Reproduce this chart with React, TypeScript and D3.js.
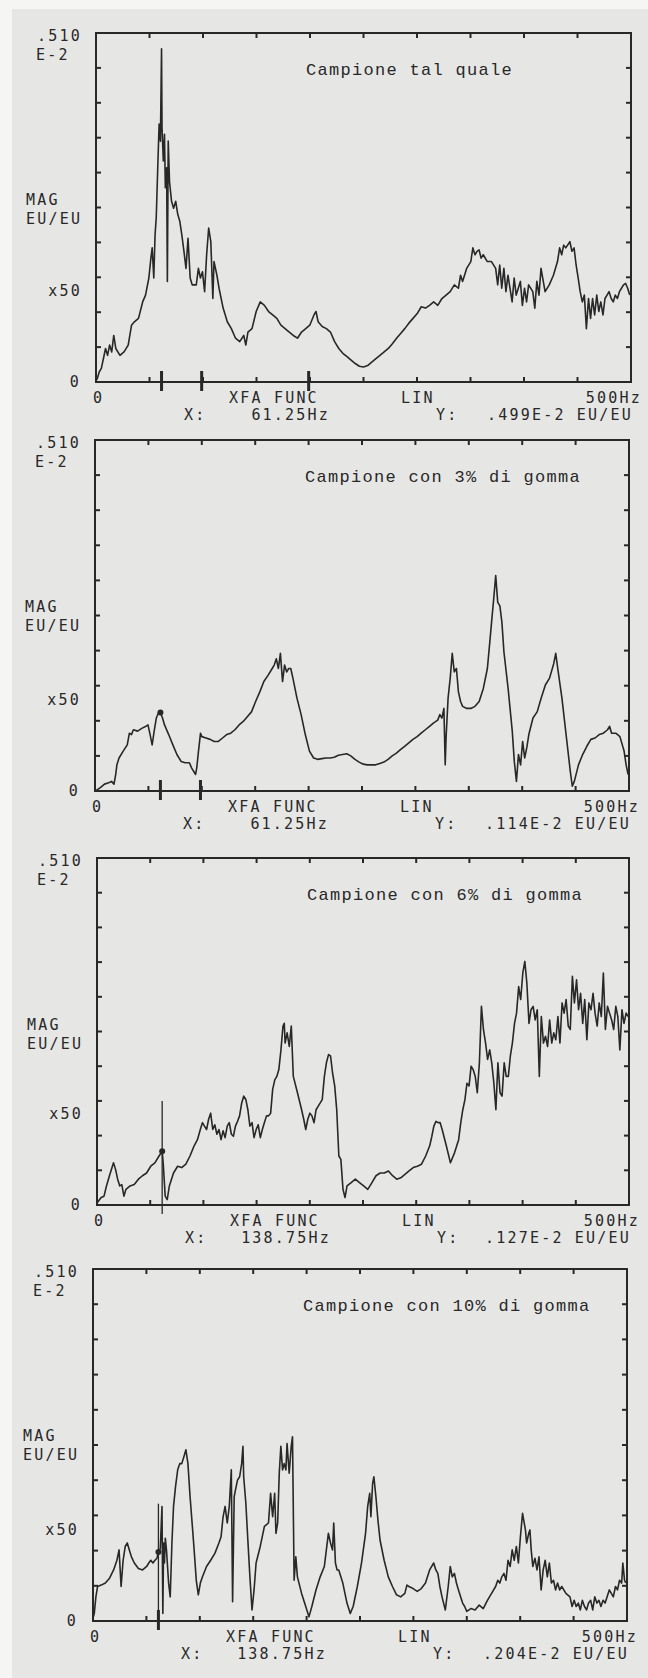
import React from "react";
import * as d3 from "d3";

const W = 648;
const H = 1678;

// ---------- data ----------
const titles = [
  "Campione tal quale",
  "Campione con 3% di gomma",
  "Campione con 6% di gomma",
  "Campione con 10% di gomma",
];
const xReadouts = ["61.25Hz", "61.25Hz", "138.75Hz", "138.75Hz"];
const yReadouts = [".499E-2 EU/EU", ".114E-2 EU/EU", ".127E-2 EU/EU", ".204E-2 EU/EU"];
const yTopLabel = [".510", "E-2"];
const yUnitLabel = ["MAG", "EU/EU"];
const yScaleLabel = "x50";
const xEndLabel = "500Hz";
const xModeLabels = ["XFA FUNC", "LIN"];

const FREQ_MAX = 500; // Hz
const MAG_MAX = 510; // units of 1e-5 EU/EU (.510E-2)
const xTickValues = d3.range(0, 501, 50);
const yTickValues = d3.range(0, 511, 51);

// magnitude in 1e-5 EU/EU vs frequency in Hz
const curveTalQuale: [number, number][] = [
  [0, 2], [1.2, 5], [3.1, 15], [5.0, 20], [6.9, 34], [8.9, 49], [10.8, 39], [12.7, 54], [14.7, 44],
  [16.6, 68], [18.5, 49], [22.4, 39], [26.2, 44], [30.1, 54], [33.2, 83], [35.9, 88], [39.7, 93],
  [43.6, 117], [46.3, 127], [49.4, 152], [51.3, 181], [52.5, 196], [54.0, 152], [55.2, 215],
  [56.3, 240], [57.9, 323], [59.0, 377], [60.2, 352], [61.25, 487], [61.7, 372], [62.9, 323],
  [64.0, 362], [64.8, 284], [66.0, 313], [66.7, 147], [67.5, 352], [68.7, 293], [70.6, 264],
  [72.5, 254], [74.5, 264], [76.4, 245], [78.3, 235], [80.2, 215], [82.2, 191], [84.1, 166],
  [86.0, 210], [88.0, 152], [89.9, 142], [93.7, 142], [95.7, 166], [97.6, 152], [99.5, 161],
  [101.5, 132], [103.4, 186], [105.3, 225], [107.3, 205], [109.2, 122], [110.3, 176], [113.0, 156],
  [115.0, 137], [118.8, 108], [120.8, 98], [122.7, 88], [126.5, 78], [130.4, 64], [134.3, 59],
  [138.1, 68], [140.0, 54], [142.0, 73], [145.8, 78], [149.7, 103], [153.5, 117], [157.4, 112],
  [161.3, 103], [165.1, 98], [169.0, 93], [172.8, 83], [176.7, 78], [180.6, 73], [184.4, 68],
  [188.3, 64], [192.1, 73], [196.0, 78], [199.8, 83], [203.7, 98], [205.6, 103], [207.6, 88],
  [211.4, 81], [215.3, 78], [219.1, 73], [223.0, 59], [226.9, 49], [230.7, 42], [234.6, 37],
  [238.4, 32], [242.3, 27], [246.1, 23], [250.0, 22], [253.9, 24], [257.7, 29], [261.6, 34],
  [265.4, 39], [269.3, 44], [273.2, 49], [277.0, 56], [280.9, 64], [284.7, 71], [288.6, 78],
  [292.4, 86], [296.3, 93], [300.2, 100], [304.0, 110], [307.9, 108], [311.7, 112], [315.6, 117],
  [319.4, 112], [323.3, 122], [327.2, 127], [331.0, 132], [334.9, 142], [338.7, 137], [340.7, 156],
  [342.6, 147], [346.4, 166], [350.3, 176], [352.2, 196], [354.2, 186], [356.1, 191], [358.0, 193],
  [359.9, 181], [361.9, 186], [365.7, 176], [369.6, 176], [373.5, 166], [375.4, 142], [377.3, 171],
  [379.2, 137], [381.2, 166], [383.1, 132], [385.0, 156], [388.9, 117], [390.8, 152], [392.7, 127],
  [396.6, 147], [398.5, 112], [400.5, 137], [402.4, 117], [404.3, 142], [408.2, 132], [410.1, 108],
  [412.0, 147], [414.0, 127], [415.9, 166], [419.7, 132], [423.6, 142], [427.5, 156], [431.3, 176],
  [433.3, 196], [435.2, 186], [437.1, 200], [439.0, 196], [442.9, 205], [444.8, 191], [446.8, 196],
  [448.7, 171], [450.6, 152], [452.5, 132], [454.5, 117], [456.4, 127], [458.3, 78], [460.3, 122],
  [462.2, 93], [464.1, 122], [466.0, 98], [468.0, 127], [469.9, 103], [471.8, 117], [473.8, 98],
  [475.7, 122], [477.6, 127], [479.5, 132], [481.5, 122], [483.4, 117], [485.3, 127], [487.3, 122],
  [489.2, 132], [491.1, 137], [493.0, 142], [495.0, 144], [496.9, 137], [498.8, 127],
];

const curveGomma3: [number, number][] = [
  [0, 0], [1.2, 1], [5.0, 5], [8.9, 10], [12.8, 12], [15.5, 14], [17.8, 10], [19.4, 24], [20.5, 38],
  [22.5, 48], [26.4, 58], [30.2, 67], [32.2, 84], [34.1, 82], [36.0, 89], [39.9, 87], [43.8, 91],
  [47.7, 94], [49.6, 96], [51.6, 82], [53.5, 67], [55.4, 87], [57.4, 106], [59.3, 113], [61.25, 114],
  [63.2, 106], [65.1, 96], [69.0, 82], [72.9, 67], [76.7, 53], [80.6, 43], [84.5, 41], [88.4, 41],
  [90.3, 34], [92.2, 29], [94.2, 24], [95.3, 34], [96.9, 58], [98.8, 84], [100.0, 79], [103.9, 77],
  [107.8, 75], [111.6, 72], [115.5, 72], [119.4, 77], [123.3, 82], [127.1, 84], [131.0, 89],
  [134.9, 96], [138.8, 101], [142.6, 108], [146.5, 115], [150.4, 130], [154.3, 144], [158.1, 159],
  [162.0, 168], [165.9, 178], [167.8, 183], [169.8, 192], [171.7, 178], [173.6, 200], [175.6, 159],
  [177.5, 183], [179.5, 173], [181.4, 178], [183.3, 178], [185.3, 164], [189.1, 135], [193.0, 111],
  [196.9, 82], [200.8, 58], [204.7, 48], [208.5, 46], [212.4, 47], [216.3, 48], [220.2, 48],
  [224.0, 49], [227.9, 52], [231.8, 53], [235.7, 54], [239.5, 51], [243.4, 46], [247.3, 42],
  [251.2, 39], [255.0, 38], [258.9, 38], [262.8, 38], [266.7, 40], [270.5, 42], [274.4, 46],
  [278.3, 51], [282.2, 55], [286.0, 60], [289.9, 65], [293.8, 70], [297.7, 75], [301.6, 79],
  [305.4, 84], [309.3, 89], [313.2, 94], [317.1, 99], [320.9, 103], [322.9, 111], [324.8, 106],
  [326.7, 120], [327.9, 38], [328.7, 77], [330.6, 135], [332.6, 164], [334.5, 200], [336.4, 173],
  [338.4, 178], [340.3, 144], [342.3, 130], [344.2, 123], [348.1, 120], [351.9, 120], [355.8, 123],
  [359.7, 130], [363.6, 149], [367.4, 178], [369.4, 212], [371.3, 245], [373.3, 279], [375.2, 313],
  [377.1, 274], [379.1, 269], [381.0, 245], [382.9, 202], [386.8, 149], [390.7, 87], [392.6, 43],
  [394.6, 14], [396.5, 53], [398.5, 38], [400.4, 72], [402.3, 48], [404.3, 63], [406.2, 82],
  [410.1, 106], [414.0, 115], [417.8, 135], [421.7, 154], [425.6, 164], [429.5, 185], [431.4, 200],
  [433.3, 178], [437.2, 135], [441.1, 82], [445.0, 29], [446.9, 7], [448.8, 14], [452.7, 38],
  [456.6, 53], [460.5, 65], [464.3, 75], [468.2, 77], [472.1, 82], [476.0, 84], [479.9, 89],
  [481.8, 94], [483.7, 84], [487.6, 84], [491.5, 79], [495.4, 58], [497.3, 38], [499.2, 24],
];

const curveGomma6: [number, number][] = [
  [0, 3], [3.9, 11], [6.6, 13], [8.9, 28], [11.7, 43], [15.5, 62], [17.5, 52], [19.4, 38], [21.4, 28],
  [23.3, 30], [25.3, 13], [27.2, 23], [31.1, 28], [35.0, 30], [38.9, 38], [42.7, 43], [46.6, 47],
  [50.5, 57], [54.4, 62], [58.3, 72], [61.25, 79], [62.2, 62], [64.1, 13], [66.0, 8], [68.0, 28],
  [71.9, 47], [75.8, 57], [79.6, 55], [83.5, 60], [87.4, 72], [91.3, 87], [94.4, 96], [97.1, 111],
  [99.1, 121], [101.0, 116], [103.0, 111], [104.9, 126], [106.8, 135], [108.8, 111], [110.7, 118],
  [112.7, 104], [114.6, 111], [116.6, 96], [118.5, 109], [120.4, 99], [122.4, 116], [124.3, 121],
  [126.3, 104], [128.2, 101], [130.1, 116], [132.1, 123], [134.0, 131], [136.0, 150], [137.9, 160],
  [139.9, 155], [141.8, 140], [143.7, 116], [145.7, 121], [147.6, 99], [149.6, 111], [151.5, 118],
  [153.5, 99], [155.4, 111], [157.3, 121], [159.3, 131], [161.2, 131], [163.2, 135], [165.1, 170],
  [167.1, 184], [169.0, 189], [170.9, 199], [172.9, 228], [174.8, 263], [176.0, 267], [176.8, 238],
  [178.7, 253], [180.7, 233], [182.6, 263], [184.5, 189], [188.4, 165], [192.3, 140], [194.3, 126],
  [196.2, 111], [198.1, 126], [200.1, 135], [202.0, 131], [204.0, 121], [205.9, 140], [207.8, 145],
  [209.8, 150], [211.7, 155], [213.7, 189], [215.6, 209], [217.6, 221], [219.5, 219], [221.4, 194],
  [223.4, 175], [225.3, 140], [227.3, 72], [229.2, 67], [231.2, 23], [233.1, 11], [235.0, 28],
  [238.9, 33], [242.8, 38], [246.7, 33], [250.6, 28], [254.5, 23], [258.4, 33], [262.2, 43],
  [266.1, 47], [270.0, 47], [273.9, 50], [277.8, 43], [281.7, 38], [285.5, 40], [289.4, 45],
  [293.3, 50], [297.2, 55], [301.1, 57], [305.0, 60], [308.9, 72], [312.7, 87], [314.7, 101],
  [316.6, 116], [318.6, 123], [320.5, 121], [322.5, 121], [324.4, 111], [328.3, 87], [332.2, 62],
  [336.1, 77], [339.9, 96], [341.9, 121], [343.8, 140], [345.8, 155], [347.7, 179], [349.7, 175],
  [351.6, 204], [353.5, 199], [355.5, 189], [357.4, 165], [359.4, 209], [361.3, 292], [363.2, 258],
  [365.2, 238], [367.1, 214], [369.1, 228], [371.0, 209], [373.0, 179], [374.9, 140], [376.8, 209],
  [378.8, 165], [380.7, 160], [382.7, 209], [384.6, 189], [386.6, 189], [388.5, 219], [390.4, 238],
  [392.4, 267], [394.3, 282], [396.3, 321], [398.2, 302], [400.2, 341], [402.1, 358], [404.0, 326],
  [406.0, 267], [407.9, 287], [409.9, 292], [411.8, 272], [413.8, 287], [415.7, 189], [417.6, 277],
  [419.6, 238], [421.5, 248], [423.5, 233], [425.4, 272], [427.4, 238], [429.3, 253], [431.2, 243],
  [433.2, 277], [435.1, 238], [437.1, 297], [439.0, 282], [440.9, 302], [442.9, 263], [444.8, 258],
  [446.8, 336], [448.7, 297], [450.7, 331], [452.6, 287], [454.5, 311], [456.5, 267], [458.4, 302],
  [460.4, 243], [462.3, 297], [464.3, 287], [466.2, 311], [468.1, 282], [470.1, 263], [472.0, 297],
  [474.0, 277], [475.9, 341], [477.8, 258], [479.8, 292], [481.7, 282], [483.7, 272], [485.6, 258],
  [487.6, 292], [489.5, 277], [491.4, 228], [493.4, 287], [495.3, 267], [497.3, 282], [499.2, 277],
];

const curveGomma10: [number, number][] = [
  [0, 4], [1.2, 11], [2.7, 35], [4.3, 50], [7.7, 52], [11.6, 55], [15.5, 62], [19.3, 74], [22.4, 88],
  [24.4, 103], [26.3, 50], [28.2, 88], [30.2, 108], [32.1, 113], [34.0, 103], [36.0, 93], [38.7, 84],
  [42.5, 76], [46.4, 74], [50.3, 79], [52.2, 84], [54.1, 88], [56.1, 84], [58.0, 88], [59.9, 91],
  [61.25, 100], [63.0, 105], [64.6, 166], [65.4, 11], [66.1, 113], [66.9, 84], [67.7, 120],
  [68.8, 103], [70.8, 55], [72.3, 35], [73.9, 113], [75.4, 166], [77.3, 195], [79.3, 219],
  [81.2, 228], [83.1, 228], [85.1, 238], [87.0, 248], [88.9, 228], [90.9, 180], [92.8, 142],
  [94.7, 103], [96.7, 59], [98.6, 38], [100.5, 55], [102.5, 64], [106.3, 79], [110.2, 88],
  [114.1, 98], [117.9, 113], [119.9, 122], [121.8, 151], [123.7, 166], [125.7, 142], [127.6, 166],
  [129.5, 219], [130.7, 28], [132.2, 180], [133.4, 190], [135.3, 204], [137.3, 209], [139.2, 228],
  [140.4, 253], [141.1, 209], [143.1, 171], [145.0, 117], [146.9, 64], [148.9, 16], [150.8, 45],
  [152.7, 84], [156.6, 108], [160.5, 137], [164.3, 142], [166.3, 185], [168.2, 151], [170.1, 185],
  [171.3, 127], [172.9, 142], [174.4, 214], [175.9, 253], [177.5, 219], [179.0, 228], [180.6, 219],
  [181.7, 257], [183.7, 214], [185.6, 253], [186.8, 267], [188.3, 59], [189.9, 93], [191.4, 64],
  [195.3, 40], [199.2, 21], [202.2, 6], [204.9, 21], [208.8, 45], [212.7, 64], [216.6, 79],
  [218.5, 103], [220.4, 127], [222.4, 113], [224.3, 103], [225.4, 142], [227.0, 84], [228.5, 74],
  [230.1, 74], [233.9, 55], [237.8, 26], [240.9, 11], [243.6, 21], [247.5, 50], [251.4, 84],
  [255.2, 127], [257.2, 166], [259.1, 185], [260.2, 151], [261.8, 199], [263.0, 209], [264.9, 180],
  [266.8, 146], [268.8, 117], [272.6, 88], [276.5, 64], [280.4, 50], [284.2, 38], [288.1, 35],
  [292.0, 40], [293.9, 52], [295.8, 50], [299.7, 47], [303.6, 43], [307.4, 47], [311.3, 55],
  [315.2, 74], [319.0, 84], [321.0, 74], [322.9, 69], [324.8, 50], [326.8, 35], [329.9, 16],
  [332.6, 50], [334.5, 79], [336.4, 64], [338.4, 69], [340.3, 55], [342.2, 45], [344.2, 35],
  [346.1, 26], [348.0, 21], [350.0, 14], [353.8, 18], [357.7, 16], [361.6, 23], [365.4, 18],
  [369.3, 30], [373.2, 40], [377.0, 50], [379.0, 59], [380.9, 55], [382.8, 64], [384.8, 69],
  [386.7, 59], [388.6, 88], [390.6, 79], [392.5, 103], [394.4, 88], [396.4, 108], [398.3, 84],
  [400.2, 122], [402.2, 156], [403.3, 146], [404.9, 132], [406.0, 113], [408.0, 127], [409.1, 132],
  [410.3, 103], [411.8, 79], [413.8, 91], [415.7, 74], [417.6, 93], [419.6, 45], [421.5, 74],
  [423.4, 88], [425.4, 64], [427.3, 84], [429.2, 55], [431.2, 59], [433.1, 45], [435.0, 55],
  [437.0, 45], [438.9, 50], [442.8, 40], [446.6, 35], [448.6, 21], [450.5, 30], [452.4, 21],
  [454.4, 26], [456.3, 16], [458.2, 30], [460.2, 21], [462.1, 16], [464.0, 26], [466.0, 30],
  [467.9, 16], [469.8, 35], [471.8, 26], [473.7, 30], [475.6, 21], [477.6, 30], [479.5, 26],
  [481.4, 35], [483.4, 45], [485.3, 40], [487.2, 35], [489.2, 50], [491.1, 45], [493.0, 59],
  [495.0, 55], [496.1, 84], [497.7, 59], [498.8, 55],
];

const curves = [curveTalQuale, curveGomma3, curveGomma6, curveGomma10];

// cursor / marker data (Hz, magnitude)
const CURSOR_FREQ = 61.25;
const markerFreqs: number[][] = [[61.25, 98.75, 198.75], [61.25, 98.75], [], [61.25]];
const cursorLineTop: (number | null)[] = [null, null, 153, 170];
const cursorDot: (number | null)[] = [null, 114, 79, 100];

// ---------- layout (pixels) ----------
const frames = [
  { left: 96, right: 631, top: 33, bottom: 382 },
  { left: 95, right: 629, top: 440, bottom: 791 },
  { left: 97, right: 629, top: 858, bottom: 1205 },
  { left: 93, right: 627, top: 1269, bottom: 1621 },
];

const INK = "#282828";
const AXIS_FONT = "'DejaVu Sans Mono', monospace";
const TITLE_FONT = "'Liberation Mono', 'DejaVu Sans Mono', monospace";

function Panel({ i }: { i: number }) {
  const f = frames[i];
  const x = d3.scaleLinear().domain([0, FREQ_MAX]).range([f.left, f.right]);
  const y = d3.scaleLinear().domain([0, MAG_MAX]).range([f.bottom, f.top]);
  const line = d3
    .line<[number, number]>()
    .x((d) => x(d[0]))
    .y((d) => y(d[1]));
  const tl = 5;
  const axisText = {
    fontFamily: AXIS_FONT,
    fontSize: 15,
    letterSpacing: 2.2,
    fill: INK,
  } as const;
  const r1 = f.bottom + 21;
  const r2 = f.bottom + 38;
  return (
    <g>
      {/* frame */}
      <rect
        x={f.left}
        y={f.top}
        width={f.right - f.left}
        height={f.bottom - f.top}
        fill="none"
        stroke={INK}
        strokeWidth={2}
      />
      {/* ticks */}
      {xTickValues.slice(1, -1).map((v) => (
        <g key={"xt" + v}>
          <line x1={x(v)} x2={x(v)} y1={f.top} y2={f.top + tl} stroke={INK} strokeWidth={2} />
          <line x1={x(v)} x2={x(v)} y1={f.bottom} y2={f.bottom - tl} stroke={INK} strokeWidth={2} />
        </g>
      ))}
      {yTickValues.slice(1, -1).map((v) => (
        <g key={"yt" + v}>
          <line x1={f.left} x2={f.left + tl} y1={y(v)} y2={y(v)} stroke={INK} strokeWidth={2} />
          <line x1={f.right} x2={f.right - tl} y1={y(v)} y2={y(v)} stroke={INK} strokeWidth={2} />
        </g>
      ))}
      {/* curve */}
      <path
        d={line(curves[i]) || ""}
        fill="none"
        stroke={INK}
        strokeWidth={1.6}
        strokeLinejoin="round"
      />
      {/* markers */}
      {markerFreqs[i].map((m) => (
        <line
          key={"m" + m}
          x1={x(m)}
          x2={x(m)}
          y1={f.bottom - 11}
          y2={f.bottom + 9}
          stroke={INK}
          strokeWidth={3}
        />
      ))}
      {cursorLineTop[i] !== null && (
        <line
          x1={x(CURSOR_FREQ)}
          x2={x(CURSOR_FREQ)}
          y1={y(cursorLineTop[i] as number)}
          y2={f.bottom + 9}
          stroke={INK}
          strokeWidth={1.3}
        />
      )}
      {cursorDot[i] !== null && (
        <circle cx={x(CURSOR_FREQ)} cy={y(cursorDot[i] as number)} r={3} fill={INK} />
      )}
      {/* title */}
      <text
        x={f.left + 210}
        y={f.top + 42}
        fontFamily={TITLE_FONT}
        fontSize={17}
        letterSpacing={1.3}
        fill={INK}
      >
        {titles[i]}
      </text>
      {/* y labels */}
      <text x={f.left - 14} y={f.top + 8} textAnchor="end" {...axisText}>
        {yTopLabel[0]}
      </text>
      <text x={f.left - 60} y={f.top + 27} {...axisText}>
        {yTopLabel[1]}
      </text>
      <text x={f.left - 70} y={f.top + 172} {...axisText}>
        {yUnitLabel[0]}
      </text>
      <text x={f.left - 70} y={f.top + 191} {...axisText}>
        {yUnitLabel[1]}
      </text>
      <text x={f.left - 14} y={f.bottom - 86} textAnchor="end" {...axisText}>
        {yScaleLabel}
      </text>
      <text x={f.left - 15} y={f.bottom + 5} textAnchor="end" {...axisText}>
        {String(yTickValues[0])}
      </text>
      {/* x labels row 1 */}
      <text x={x(0) - 3} y={r1} {...axisText}>
        {String(xTickValues[0])}
      </text>
      <text x={f.left + 133} y={r1} {...axisText}>
        {xModeLabels[0]}
      </text>
      <text x={f.left + 305} y={r1} {...axisText}>
        {xModeLabels[1]}
      </text>
      <text x={f.right + 11} y={r1} textAnchor="end" {...axisText}>
        {xEndLabel}
      </text>
      {/* readouts row 2 */}
      <text x={f.left + 88} y={r2} {...axisText}>
        X:
      </text>
      <text x={f.left + 234} y={r2} textAnchor="end" {...axisText}>
        {xReadouts[i]}
      </text>
      <text x={f.left + 340} y={r2} {...axisText}>
        Y:
      </text>
      <text x={f.right + 2} y={r2} textAnchor="end" {...axisText}>
        {yReadouts[i]}
      </text>
    </g>
  );
}

export default function App() {
  return (
    <svg
      width={W}
      height={H}
      viewBox={`0 0 ${W} ${H}`}
      style={{ position: "absolute", left: 0, top: 0, display: "block" }}
    >
      <rect x={0} y={0} width={W} height={H} fill="#f5f5f4" />
      <rect x={12} y={9} width={W - 12} height={H - 9} fill="#e6e6e5" />
      {frames.map((_, i) => (
        <Panel key={i} i={i} />
      ))}
    </svg>
  );
}
